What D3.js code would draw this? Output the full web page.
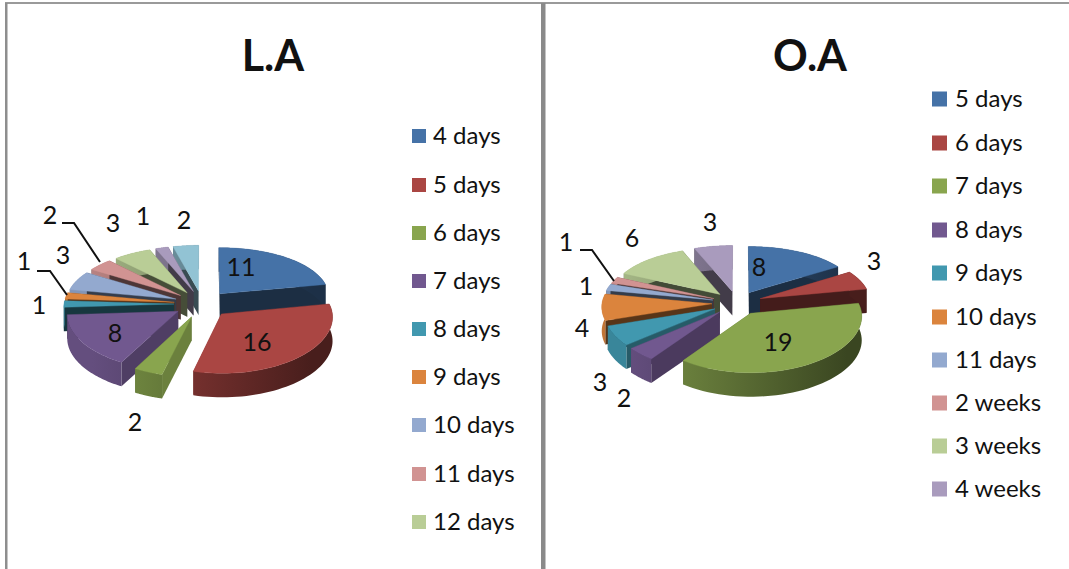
<!DOCTYPE html>
<html><head><meta charset="utf-8">
<script src="https://cdn.jsdelivr.net/npm/d3@7/dist/d3.min.js"></script>
<style>html,body{margin:0;padding:0;background:#fff;overflow:hidden}text{font-family:Lato,"Open Sans",sans-serif;fill:#111}</style>
</head><body>
<script>
// ---- data ----
const laCategories = ["4 days","5 days","6 days","7 days","8 days","9 days","10 days","11 days","12 days","13 days","14 days"];
const laValues = [11,16,2,8,1,1,3,2,3,1,2];
const oaCategories = ["5 days","6 days","7 days","8 days","9 days","10 days","11 days","2 weeks","3 weeks","4 weeks"];
const oaValues = [8,3,19,2,3,4,1,1,6,3];
const laColors = ["#4572a7","#aa4643","#89a54e","#71588f","#4198af","#db843d","#93a9cf","#d19392","#b9cd96","#a99bbd","#92c3d4"];
const oaColors = ["#4572a7","#aa4643","#89a54e","#71588f","#4198af","#db843d","#93a9cf","#d19392","#b9cd96","#a99bbd"];
// label anchors (pixels) for each slice
const laLabelPos = [[241,270],[257,345],[135,425],[115,336],[39,308],[24,264],[63,258],[50,218],[113,226],[143,219],[184,223]];
const oaLabelPos = [[759,270],[874,264],[778,345],[624,401],[600,385],[582,331],[586,289],[566,245],[632,241],[710,225]];

const W=1069,H=569;
const svg=d3.select("body").append("svg").attr("width",W).attr("height",H).style("display","block");
const defs=svg.append("defs");

// frame
svg.append("rect").attr("x",5).attr("y",2).attr("width",W-5).attr("height",2).attr("fill","#9a9a9a");
svg.append("rect").attr("x",5).attr("y",3).attr("width",2.5).attr("height",H-3).attr("fill","#8e8e8e");
svg.append("rect").attr("x",541).attr("y",3).attr("width",4.5).attr("height",H-3).attr("fill","#8a8a8a");

// brightness of a radial cut face, by its angle round the pie (degrees)
const faceLight=d3.scaleLinear().domain([0,180,194,216,230,252,270,360]).range([.4,.4,.78,.66,.6,.4,.35,.4]);
const scaleColor=(c,k)=>d3.rgb(c.r*k,c.g*k,c.b*k).formatRgb();

function drawPie(cfg){
  const {id,values,colors,cx,cy,explode,rx,tilt,persp,depth}=cfg;
  const g=svg.append("g");
  const arcs=d3.pie().sort(null)(values);
  const project=(a,r,ex)=>{
    const X=r*Math.sin(a)+ex.x, Y=-r*Math.cos(a)+ex.y;
    return [cx+X*(1+0.05*Y/rx), cy+Y*tilt*(1+persp*Y/rx)];
  };
  const line=d3.line();
  arcs.map((d,i)=>({d,i,mid:(d.startAngle+d.endAngle)/2}))
      .sort((a,b)=>Math.cos(b.mid)-Math.cos(a.mid))
      .forEach(({d,i,mid})=>{
    const ex={x:explode*Math.sin(mid),y:-explode*Math.cos(mid)};
    const base=d3.rgb(colors[i]);
    const sweep=d3.range(0,1.0001,1/48).map(t=>d.startAngle+t*(d.endAngle-d.startAngle));
    const rim=sweep.map(a=>project(a,rx,ex));
    const apex=project(0,0,ex);
    const down=p=>[p[0],p[1]+depth];
    const gid=`${id}-w${i}`;
    const gr=defs.append("linearGradient").attr("id",gid).attr("gradientUnits","userSpaceOnUse")
      .attr("x1",cx-rx).attr("x2",cx+rx).attr("y1",0).attr("y2",0);
    gr.append("stop").attr("offset",0).attr("stop-color",base.darker(0.35));
    gr.append("stop").attr("offset",0.45).attr("stop-color",base.darker(1.05));
    gr.append("stop").attr("offset",1).attr("stop-color",base.darker(2.4));
    const side=p=>line([apex,p,down(p),down(apex)])+"Z";
    const deg=a=>a*180/Math.PI;
    const sg=g.append("g");
    // the face whose rim end sits nearer the viewer is painted last
    const faces=[{p:rim[0],a:d.startAngle},{p:rim[rim.length-1],a:d.endAngle}].sort((a,b)=>a.p[1]-b.p[1]);
    faces.forEach(f=>sg.append("path").attr("d",side(f.p)).attr("fill",scaleColor(base,faceLight(deg(f.a)))));
    sg.append("path").attr("d",line(rim.concat(rim.slice().reverse().map(down)))+"Z").attr("fill",`url(#${gid})`);
    sg.append("path").attr("d",line([apex].concat(rim))+"Z").attr("fill",base).attr("stroke",base).attr("stroke-width",.4);
  });
}

function legend(cats,colors,x,ys,size,tx,fs){
  const G=svg.append("g");
  cats.forEach((c,i)=>{
    if(i>=ys.length) return;
    G.append("rect").attr("x",x).attr("y",ys[i]-size/2).attr("width",size).attr("height",size).attr("fill",colors[i]);
    G.append("text").attr("x",tx).attr("y",ys[i]+fs*0.34).attr("font-size",fs).text(c);
  });
}
function labels(values,pos){
  const G=svg.append("g");
  values.forEach((v,i)=>G.append("text").attr("x",pos[i][0]).attr("y",pos[i][1]).attr("text-anchor","middle")
     .attr("dominant-baseline","middle").attr("font-size",25).text(v));
}
function leader(pts){
  svg.append("path").attr("d",d3.line()(pts)).attr("fill","none").attr("stroke","#111").attr("stroke-width",2);
}

const common={rx:110,tilt:0.48,persp:0.09,depth:24};
drawPie({id:"la",values:laValues,colors:laColors,cx:202,cy:304,explode:28,...common});
drawPie({id:"oa",values:oaValues,colors:oaColors,cx:737,cy:303,explode:25,...common});

labels(laValues,laLabelPos);
labels(oaValues,oaLabelPos);
leader([[37,271],[50,271],[67,295]]);
leader([[62,223],[74,223],[100,262]]);
leader([[580,250],[592,250],[614,281]]);

svg.append("text").attr("x",273).attr("y",71).attr("text-anchor","middle").attr("font-size",43).attr("font-weight",700).text("L.A");
svg.append("text").attr("x",810).attr("y",71).attr("text-anchor","middle").attr("font-size",43).attr("font-weight",700).text("O.A");

legend(laCategories,laColors,412,[136,185,233,281,329,377,425,474,522],14,433,24);
legend(oaCategories,oaColors,932,[99,143,186,230,273,317,360,403,446,489],15,955,24);
</script>
</body></html>
